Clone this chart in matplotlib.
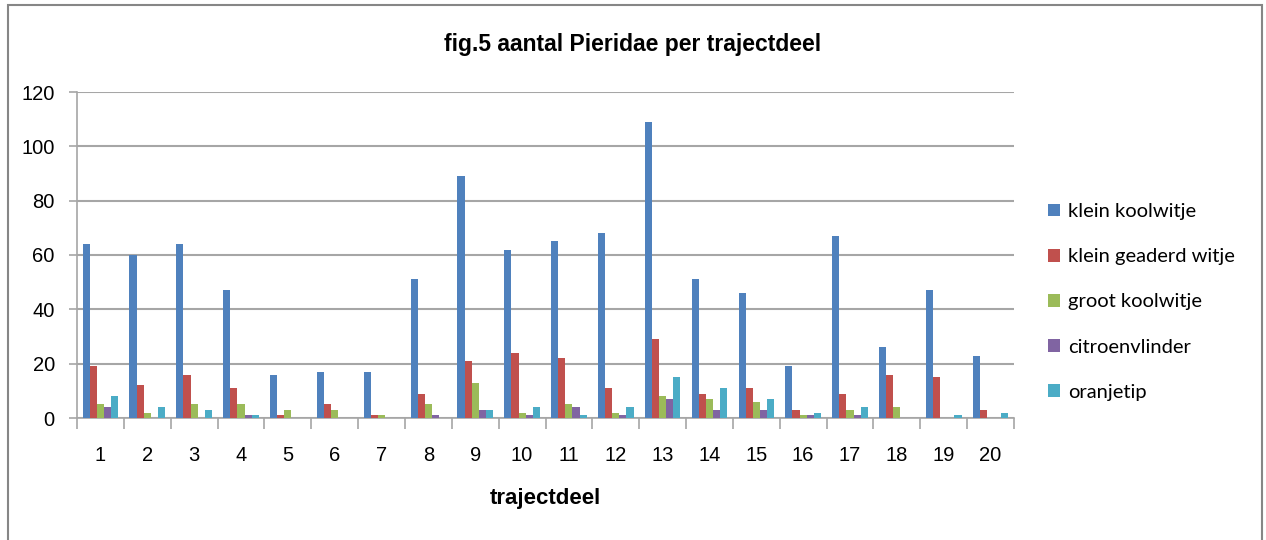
import numpy as np
import matplotlib.pyplot as plt
from matplotlib.patches import Rectangle

trajectdeel = [str(i) for i in range(1, 21)]
klein_koolwitje = [64, 60, 64, 47, 16, 17, 17, 51, 89, 62, 65, 68, 109, 51, 46, 19, 67, 26, 47, 23]
klein_geaderd_witje = [19, 12, 16, 11, 1, 5, 1, 9, 21, 24, 22, 11, 29, 9, 11, 3, 9, 16, 15, 3]
groot_koolwitje = [5, 2, 5, 5, 3, 3, 1, 5, 13, 2, 5, 2, 8, 7, 6, 1, 3, 4, 0, 0]
citroenvlinder = [4, 0, 0, 1, 0, 0, 0, 1, 3, 1, 4, 1, 7, 3, 3, 1, 1, 0, 0, 0]
oranjetip = [8, 4, 3, 1, 0, 0, 0, 0, 3, 4, 1, 4, 15, 11, 7, 2, 4, 0, 1, 2]

series = [
    ('klein koolwitje', klein_koolwitje, '#4F81BD'),
    ('klein geaderd witje', klein_geaderd_witje, '#C0504D'),
    ('groot koolwitje', groot_koolwitje, '#9BBB59'),
    ('citroenvlinder', citroenvlinder, '#8064A2'),
    ('oranjetip', oranjetip, '#4BACC6'),
]

narrow = ['Liberation Sans', 'DejaVu Sans']

fig = plt.figure(figsize=(12.66, 5.4), dpi=100)
ax = fig.add_axes([77 / 1266, 1 - 418 / 540, (1014 - 77) / 1266, (418 - 92) / 540])

# outer chart border
fig.patches.append(Rectangle((8 / 1266, -0.1), (1262 - 8) / 1266, 1.1 - 5 / 540,
                             transform=fig.transFigure, fill=False,
                             edgecolor='#868686', linewidth=1.5))

x = np.arange(1, 21)
w = 0.152
for i, (name, vals, col) in enumerate(series):
    ax.bar(x + (i - 2) * w, vals, width=w, color=col, label=name, zorder=3)

ax.set_xlim(0.5, 20.5)
ax.set_ylim(0, 120)
ax.set_yticks(range(0, 121, 20))
ax.yaxis.grid(True, color='#A6A6A6', linewidth=1.5, zorder=0)
ax.set_xticks(x)
ax.set_xticklabels(trajectdeel)
ax.set_xticks(np.arange(0.5, 21, 1), minor=True)
ax.tick_params(axis='x', which='major', length=0, pad=20)
ax.tick_params(axis='x', which='minor', length=8, color='#A6A6A6', width=1.2)
ax.tick_params(axis='y', length=6, color='#A6A6A6', width=1.2, pad=10)
for lab in ax.get_xticklabels() + ax.get_yticklabels():
    lab.set_family(narrow)
    lab.set_fontsize(14.5)

for s in ['top', 'right']:
    ax.spines[s].set_visible(False)
for s in ['left', 'bottom']:
    ax.spines[s].set_color('#A6A6A6')
    ax.spines[s].set_linewidth(1.2)

fig.text(0.5, 1 - 45 / 540, 'fig.5 aantal Pieridae per trajectdeel', ha='center', va='center',
         family=narrow, fontsize=16.5, fontweight='bold')
ax.set_xlabel('trajectdeel', family=narrow, fontsize=16, fontweight='bold', labelpad=17)

fig.legend(loc='center left', bbox_to_anchor=(1030 / 1266, 1 - 302 / 540), frameon=False,
           prop={'family': 'Lato', 'size': 14.5}, handlelength=0.6, handleheight=0.6,
           handletextpad=0.4, labelspacing=1.4)

fig.savefig('out.png', dpi=100)
